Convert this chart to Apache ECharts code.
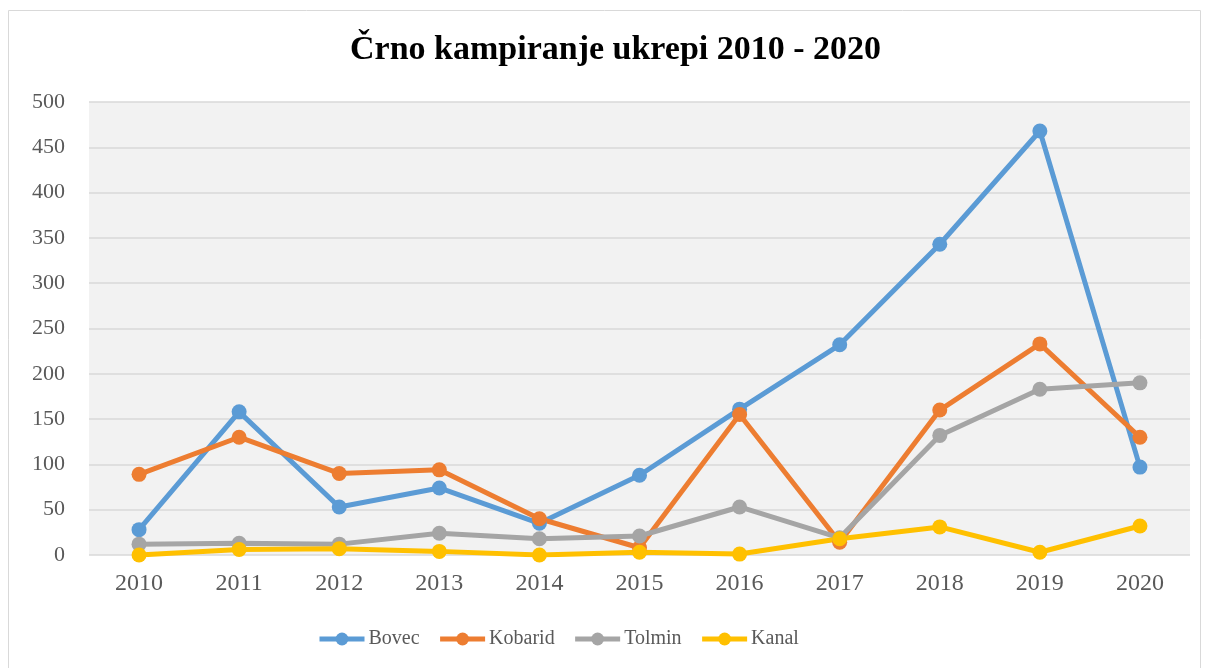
<!DOCTYPE html>
<html>
<head>
<meta charset="utf-8">
<script src="https://cdn.jsdelivr.net/npm/echarts@6/dist/echarts.min.js"></script>
<style>
  body { margin: 0; background: #fff; }
  #chart { width: 1209px; height: 668px; }
</style>
</head>
<body>
<div id="chart"></div>
<script>
// podatki
const years = ['2010', '2011', '2012', '2013', '2014', '2015', '2016', '2017', '2018', '2019', '2020'];
const bovec = [28, 158, 53, 74, 35, 88, 161, 232, 343, 468, 97];
const kobarid = [89, 130, 90, 94, 40, 8, 155, 14, 160, 233, 130];
const tolmin = [12, 13, 12, 24, 18, 21, 53, 19, 132, 183, 190];
const kanal = [0, 6, 7, 4, 0, 3, 1, 18, 31, 3, 32];
const yTicks = [0, 50, 100, 150, 200, 250, 300, 350, 400, 450, 500];

const font = '"Liberation Serif", serif';

function line(name, data, color) {
    return {
        name: name,
        type: 'line',
        data: data,
        color: color,
        symbol: 'circle',
        symbolSize: 15,
        lineStyle: { width: 5 },
        itemStyle: { color: color }
    };
}

let myChart = echarts.init(document.getElementById('chart'));
myChart.setOption({
    animation: false,
    textStyle: { fontFamily: font },
    graphic: [{
        type: 'rect',
        shape: { x: 8.5, y: 10.5, width: 1192, height: 670 },
        style: { fill: null, stroke: '#d9d9d9', lineWidth: 1 },
        silent: true
    }],
    title: {
        text: 'Črno kampiranje ukrepi 2010 - 2020',
        left: 345,
        top: 28,
        textStyle: { fontFamily: font, fontWeight: 'bold', fontSize: 34, color: '#000' }
    },
    legend: {
        bottom: 14,
        left: 312,
        itemWidth: 45,
        itemHeight: 16,
        itemGap: 18,
        lineStyle: { width: 5 },
        textStyle: { fontFamily: font, fontSize: 20, color: '#595959', padding: [0, 0, 0, -1] },
        data: ['Bovec', 'Kobarid', 'Tolmin', 'Kanal']
    },
    grid: {
        left: 89,
        right: 19,
        top: 102,
        bottom: 113,
        show: true,
        backgroundColor: '#f2f2f2',
        borderWidth: 0
    },
    xAxis: {
        type: 'category',
        data: years,
        boundaryGap: true,
        axisLine: { show: false },
        axisTick: { show: false },
        axisLabel: { fontFamily: font, fontSize: 24, color: '#595959', margin: 17 }
    },
    yAxis: {
        type: 'value',
        min: yTicks[0],
        max: yTicks[yTicks.length - 1],
        interval: 50,
        axisLine: { show: false },
        axisTick: { show: false },
        axisLabel: { fontFamily: font, fontSize: 22, color: '#595959', margin: 24 },
        splitLine: { lineStyle: { color: '#d9d9d9', width: 1.5 } }
    },
    series: [
        line('Bovec', bovec, '#5b9bd5'),
        line('Kobarid', kobarid, '#ed7d31'),
        line('Tolmin', tolmin, '#a5a5a5'),
        line('Kanal', kanal, '#ffc000')
    ]
});
</script>
</body>
</html>
